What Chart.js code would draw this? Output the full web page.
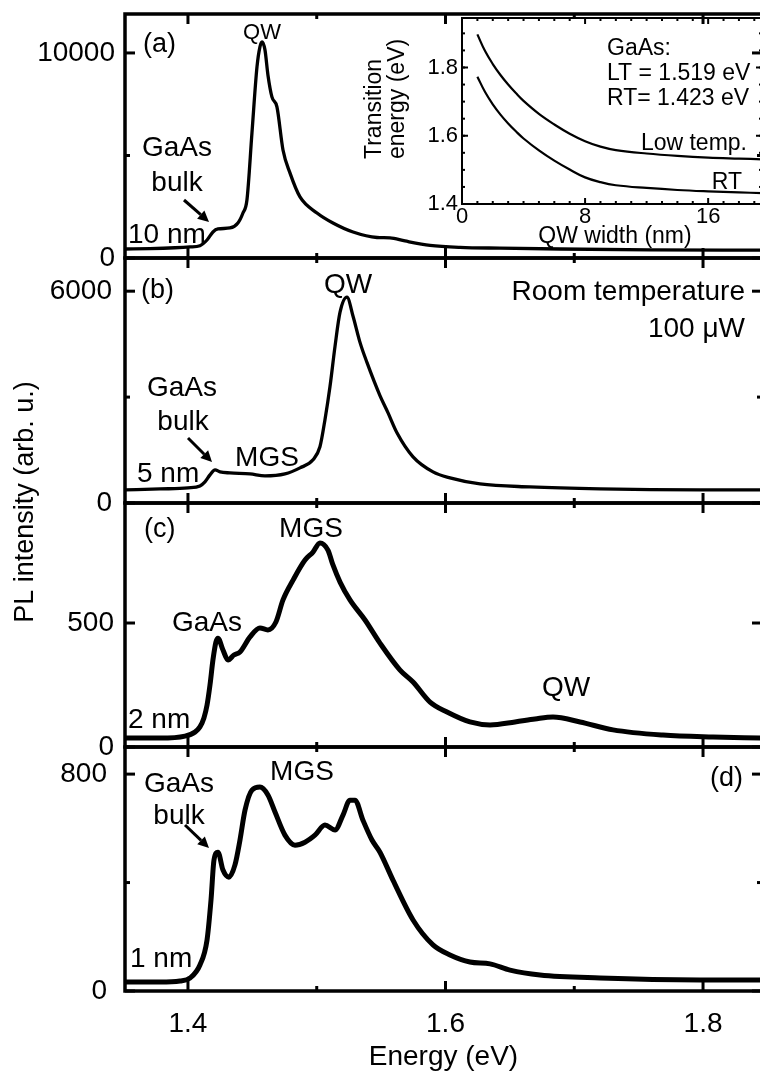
<!DOCTYPE html>
<html>
<head>
<meta charset="utf-8">
<script src="https://cdn.jsdelivr.net/npm/chart.js@4.4.1/dist/chart.umd.min.js"></script>
<style>
  html, body { margin: 0; padding: 0; overflow: hidden; background: #fff; }
  #wrap { position: relative; width: 760px; height: 1078px; overflow: hidden; }
  #wrap canvas { position: absolute; left: 0; top: 0; }
</style>
</head>
<body>
<div id="wrap">
  <canvas id="panel-a" width="770" height="1078"></canvas>
  <canvas id="panel-b" width="770" height="1078"></canvas>
  <canvas id="panel-c" width="770" height="1078"></canvas>
  <canvas id="panel-d" width="770" height="1078"></canvas>
  <canvas id="inset" width="770" height="1078"></canvas>
</div>
<script>
// --- data ---
const xTickLabels = [1.4, 1.6, 1.8];
const xMinorTicks = [1.5, 1.7];

// (a) 10 nm
const energyA = [1.3511, 1.3705, 1.3899, 1.4016, 1.4093, 1.4148, 1.4194, 1.4233, 1.4326, 1.4388,
  1.4427, 1.4458, 1.4497, 1.4536, 1.4559, 1.4575, 1.4598, 1.4621, 1.4652, 1.4691,
  1.4738, 1.4792, 1.487, 1.5002, 1.5126, 1.5282, 1.5468, 1.5569, 1.5685, 1.588,
  1.6113, 1.6423, 1.6889, 1.7588, 1.8443];
const intensityA = [440, 460, 500, 540, 600, 878, 1269, 1415, 1464, 1708,
  2196, 2830, 6100, 9320, 10300, 10540, 10150, 8930, 7857, 7370,
  5270, 4150, 2977, 2196, 1708, 1269, 1000, 980, 830, 620,
  520, 480, 440, 400, 380];

// (b) 5 nm
const energyB = [1.3511, 1.3783, 1.4, 1.4093, 1.4132, 1.4171, 1.421, 1.4249, 1.4326, 1.4482,
  1.4598, 1.4753, 1.487, 1.4971, 1.5025, 1.5064, 1.5103, 1.5142, 1.5181, 1.5235,
  1.5282, 1.5336, 1.539, 1.5491, 1.5553, 1.5623, 1.5748, 1.5903, 1.6035, 1.6268,
  1.6656, 1.72, 1.7977, 1.8443];
const intensityB = [370, 398, 427, 483, 597, 796, 939, 882, 853, 825,
  768, 825, 995, 1223, 1593, 2361, 3299, 4437, 5404, 5830,
  5290, 4550, 3982, 3043, 2560, 1991, 1308, 882, 711, 540,
  455, 398, 370, 370];

// (c) 2 nm
const energyC = [1.3511, 1.3783, 1.3977, 1.4054, 1.4093, 1.4124, 1.4148, 1.4171, 1.4194, 1.4217,
  1.4233, 1.4272, 1.4311, 1.4357, 1.4404, 1.4482, 1.4559, 1.4621, 1.4683, 1.4738,
  1.4816, 1.4909, 1.4971, 1.5025, 1.5087, 1.5126, 1.5181, 1.5258, 1.5375, 1.5491,
  1.5647, 1.5748, 1.588, 1.6012, 1.619, 1.6346, 1.654, 1.6695, 1.6835, 1.7045,
  1.7301, 1.7689, 1.8078, 1.8443];
const intensityC = [36, 36, 44, 60, 81, 117, 169, 250, 351, 423,
  439, 391, 351, 371, 383, 444, 480, 472, 504, 593,
  673, 754, 786, 823, 794, 734, 665, 593, 512, 419,
  310, 262, 181, 141, 101, 89, 101, 113, 121, 101,
  69, 48, 40, 36];

// (d) 1 nm
const energyD = [1.3511, 1.3783, 1.3938, 1.4016, 1.4093, 1.4148, 1.4179, 1.4202, 1.4233, 1.4272,
  1.4318, 1.4365, 1.4404, 1.4443, 1.4497, 1.4559, 1.4621, 1.4676, 1.4753, 1.4831,
  1.4909, 1.4986, 1.5064, 1.5142, 1.5204, 1.5258, 1.5297, 1.5359, 1.5429, 1.5491,
  1.5592, 1.5748, 1.5903, 1.6035, 1.619, 1.6346, 1.6501, 1.6734, 1.72, 1.7977, 1.8443];
const intensityD = [33, 33, 37, 48, 96, 188, 336, 483, 512, 446,
  420, 465, 557, 667, 741, 752, 723, 660, 575, 538,
  549, 575, 612, 594, 649, 704, 704, 630, 557, 512,
  409, 262, 170, 133, 107, 100, 77, 59, 48, 41, 41];

// inset: transition energy vs QW width
const widthsInset = [1, 1.5, 2, 2.5, 3, 3.5, 4, 5, 6, 7, 8, 9, 10, 12, 14, 16, 18, 19.5];
const lowTempInset = [1.897, 1.848, 1.81, 1.778, 1.75, 1.725, 1.702, 1.664, 1.633, 1.606, 1.584, 1.568, 1.558, 1.548, 1.541, 1.536, 1.533, 1.531];
const roomTempInset = [1.773, 1.728, 1.692, 1.662, 1.636, 1.613, 1.592, 1.557, 1.527, 1.501, 1.478, 1.464, 1.455, 1.447, 1.441, 1.437, 1.434, 1.432];
const insetXTicks = [0, 8, 16];
const insetYTicks = [1.4, 1.6, 1.8];

// --- layout ---
const FONT = '"Liberation Sans", Arial, Helvetica, sans-serif';
const CANVAS_W = 770, CANVAS_H = 1078;
const PLOT_LEFT = 125, PLOT_RIGHT = 762;
const X_MIN = 1.3511, X_MAX = 1.8458;

Chart.defaults.font.family = FONT;
Chart.defaults.color = '#000';

const seg = (ctx, x1, y1, x2, y2) => {
  ctx.beginPath(); ctx.moveTo(x1, y1); ctx.lineTo(x2, y2); ctx.stroke();
};

// box + inward ticks on all four sides
const framePlugin = (spec) => ({
  id: 'frame',
  afterDatasetsDraw(chart) {
    const { ctx, chartArea: a, scales: { x, y } } = chart;
    ctx.save();
    ctx.strokeStyle = '#000';
    ctx.lineWidth = spec.border;
    ctx.strokeRect(a.left, a.top, a.right - a.left, a.bottom - a.top);
    ctx.lineWidth = spec.tickWidth;
    const xt = (vals, len) => vals.forEach(v => {
      const p = x.getPixelForValue(v);
      seg(ctx, p, a.bottom, p, a.bottom - len);
      seg(ctx, p, a.top, p, a.top + len);
    });
    const yt = (vals, len) => vals.forEach(v => {
      const p = y.getPixelForValue(v);
      seg(ctx, a.left, p, a.left + len, p);
      seg(ctx, a.right, p, a.right - len, p);
    });
    xt(spec.xMajor, spec.majorLen);
    xt(spec.xMinor, spec.minorLen);
    yt(spec.yMajor, spec.majorLen);
    yt(spec.yMinor, spec.minorLen);
    ctx.restore();
  }
});

const notesPlugin = (texts, arrows = []) => ({
  id: 'notes',
  afterDraw(chart) {
    const { ctx } = chart;
    ctx.save();
    ctx.fillStyle = '#000';
    ctx.strokeStyle = '#000';
    ctx.textBaseline = 'alphabetic';
    texts.forEach(t => {
      const size = t.size || 28;
      ctx.font = `${size}px ${FONT}`;
      ctx.textAlign = t.align || 'center';
      if (t.rotate) {
        ctx.save();
        ctx.translate(t.x, t.y);
        ctx.rotate(-Math.PI / 2);
        ctx.fillText(t.text, 0, 0);
        ctx.restore();
      } else {
        ctx.fillText(t.text, t.x, t.y + 0.36 * size);
      }
    });
    arrows.forEach(([x1, y1, x2, y2]) => {
      const ang = Math.atan2(y2 - y1, x2 - x1), head = 11, half = 5.5;
      const bx = x2 - head * Math.cos(ang), by = y2 - head * Math.sin(ang);
      ctx.lineWidth = 3;
      seg(ctx, x1, y1, bx, by);
      ctx.beginPath();
      ctx.moveTo(x2, y2);
      ctx.lineTo(bx + half * Math.sin(ang), by - half * Math.cos(ang));
      ctx.lineTo(bx - half * Math.sin(ang), by + half * Math.cos(ang));
      ctx.closePath();
      ctx.fill();
    });
    ctx.restore();
  }
});

function renderPanel(id, cfg) {
  const isBottom = !!cfg.showX;
  return new Chart(document.getElementById(id), {
    type: 'line',
    data: {
      datasets: [{
        data: cfg.energy.map((e, i) => ({ x: e, y: cfg.values[i] })),
        borderColor: '#000',
        borderWidth: cfg.lineWidth,
        pointRadius: 0,
        cubicInterpolationMode: 'monotone',
        fill: false,
      }],
    },
    options: {
      responsive: false,
      animation: false,
      events: [],
      layout: { padding: { left: 0, right: CANVAS_W - PLOT_RIGHT, top: cfg.top, bottom: isBottom ? 0 : CANVAS_H - cfg.bottom } },
      plugins: { legend: { display: false }, tooltip: { enabled: false } },
      scales: {
        x: {
          type: 'linear', min: X_MIN, max: X_MAX, display: isBottom,
          grid: { display: false, drawTicks: false }, border: { display: false },
          afterBuildTicks: (s) => { s.ticks = xTickLabels.map(v => ({ value: v })); },
          ticks: { font: { size: 28 }, padding: 16, maxRotation: 0, autoSkip: false, callback: (v) => Number(v).toFixed(1) },
          title: { display: isBottom, text: 'Energy (eV)', font: { size: 28 }, padding: { top: 0, bottom: 4 } },
          afterFit: (s) => {
            if (!isBottom) return;
            s.height = CANVAS_H - cfg.bottom;
            s.paddingLeft = 0; s.paddingRight = 0;
          },
        },
        y: {
          type: 'linear', min: 0, max: cfg.yMax,
          grid: { display: false, drawTicks: false }, border: { display: false },
          afterBuildTicks: (s) => { s.ticks = cfg.yLabels.map(v => ({ value: v })); },
          ticks: { font: { size: 28 }, padding: cfg.labelPad, callback: (v) => String(v) },
          afterFit: (s) => { s.width = PLOT_LEFT; s.paddingTop = 0; s.paddingBottom = 0; },
        },
      },
    },
    plugins: [
      framePlugin({ border: 3.5, tickWidth: 3, majorLen: 10, minorLen: 5,
        xMajor: xTickLabels, xMinor: xMinorTicks, yMajor: cfg.yLabels, yMinor: cfg.yMinor }),
      notesPlugin(cfg.texts, cfg.arrows),
    ],
  });
}

renderPanel('panel-a', {
  energy: energyA, values: intensityA, top: 14, bottom: 258, yMax: 11900,
  yLabels: [0, 10000], yMinor: [5000], labelPad: 10, lineWidth: 3.3,
  texts: [
    { text: '(a)', x: 143, y: 42, align: 'left', size: 27 },
    { text: 'QW', x: 262, y: 31, size: 22 },
    { text: 'GaAs', x: 177, y: 146 },
    { text: 'bulk', x: 177, y: 181 },
    { text: '10 nm', x: 128, y: 233, align: 'left' },
  ],
  arrows: [[184, 200, 209, 222]],
});

renderPanel('panel-b', {
  energy: energyB, values: intensityB, top: 258, bottom: 503, yMax: 6940,
  yLabels: [0, 6000], yMinor: [3000], labelPad: 13, lineWidth: 3.3,
  texts: [
    { text: '(b)', x: 141, y: 288, align: 'left', size: 27 },
    { text: 'QW', x: 348, y: 283 },
    { text: 'Room temperature', x: 745, y: 290, align: 'right' },
    { text: '100 \u03bcW', x: 745, y: 327, align: 'right' },
    { text: 'GaAs', x: 182, y: 386 },
    { text: 'bulk', x: 183, y: 420 },
    { text: 'MGS', x: 267, y: 456 },
    { text: '5 nm', x: 137, y: 472, align: 'left' },
  ],
  arrows: [[188, 438, 212, 462]],
});

renderPanel('panel-c', {
  energy: energyC, values: intensityC, top: 503, bottom: 747, yMax: 984,
  yLabels: [0, 500], yMinor: [], labelPad: 11, lineWidth: 5,
  texts: [
    { text: '(c)', x: 144, y: 527, align: 'left', size: 27 },
    { text: 'MGS', x: 311, y: 527 },
    { text: 'GaAs', x: 207, y: 621 },
    { text: '2 nm', x: 128, y: 718, align: 'left' },
    { text: 'QW', x: 566, y: 686 },
  ],
});

renderPanel('panel-d', {
  energy: energyD, values: intensityD, top: 747, bottom: 991, yMax: 900, showX: true,
  yLabels: [0, 800], yMinor: [400], labelPad: 18, lineWidth: 5,
  texts: [
    { text: 'GaAs', x: 179, y: 782 },
    { text: 'bulk', x: 179, y: 814 },
    { text: 'MGS', x: 302, y: 770 },
    { text: '(d)', x: 710, y: 776, align: 'left', size: 27 },
    { text: '1 nm', x: 130, y: 957, align: 'left' },
    { text: 'PL intensity (arb. u.)', x: 33, y: 502, rotate: true, size: 27 },
  ],
  arrows: [[185, 825, 209, 848]],
});

// inset
const insetMinorX = [];
for (let w = 1; w <= 19; w++) if (w % 8) insetMinorX.push(w);
const insetMinorY = [];
for (let e = 1.45; e < 1.95; e += 0.05) insetMinorY.push(Math.round(e * 100) / 100);

const insetLine = (ys) => ({
  data: widthsInset.map((w, i) => ({ x: w, y: ys[i] })),
  borderColor: '#000', borderWidth: 2.2, pointRadius: 0, tension: 0.4,
});

new Chart(document.getElementById('inset'), {
  type: 'line',
  data: { datasets: [insetLine(lowTempInset), insetLine(roomTempInset)] },
  options: {
    responsive: false,
    animation: false,
    events: [],
    layout: { padding: { left: 0, right: CANVAS_W - PLOT_RIGHT, top: 18, bottom: CANVAS_H - 234 } },
    plugins: { legend: { display: false }, tooltip: { enabled: false } },
    scales: {
      x: {
        type: 'linear', min: 0, max: 19.5,
        grid: { display: false, drawTicks: false }, border: { display: false },
        afterBuildTicks: (s) => { s.ticks = insetXTicks.map(v => ({ value: v })); },
        ticks: { font: { size: 22 }, padding: 0, maxRotation: 0, autoSkip: false, callback: (v) => String(v) },
        afterFit: (s) => { s.height = 30; s.paddingLeft = 0; s.paddingRight = 0; },
      },
      y: {
        type: 'linear', min: 1.4, max: 1.945,
        grid: { display: false, drawTicks: false }, border: { display: false },
        afterBuildTicks: (s) => { s.ticks = insetYTicks.map(v => ({ value: v })); },
        ticks: { font: { size: 22 }, padding: 4, callback: (v) => Number(v).toFixed(1) },
        afterFit: (s) => { s.width = 462; s.paddingTop = 0; s.paddingBottom = 0; },
      },
    },
  },
  plugins: [
    framePlugin({ border: 2, tickWidth: 2, majorLen: 6, minorLen: 3,
      xMajor: insetXTicks, xMinor: insetMinorX, yMajor: insetYTicks, yMinor: insetMinorY }),
    notesPlugin([
      { text: 'GaAs:', x: 607, y: 47, align: 'left', size: 23 },
      { text: 'LT = 1.519 eV', x: 607, y: 72, align: 'left', size: 23 },
      { text: 'RT= 1.423 eV', x: 607, y: 97, align: 'left', size: 23 },
      { text: 'Low temp.', x: 747, y: 142, align: 'right', size: 23 },
      { text: 'RT', x: 742, y: 181, align: 'right', size: 23 },
      { text: 'QW width (nm)', x: 615, y: 235, size: 23 },
      { text: 'Transition', x: 381, y: 159, align: 'left', rotate: true, size: 23 },
      { text: 'energy (eV)', x: 404, y: 159, align: 'left', rotate: true, size: 23 },
    ]),
  ],
});
</script>
</body>
</html>
